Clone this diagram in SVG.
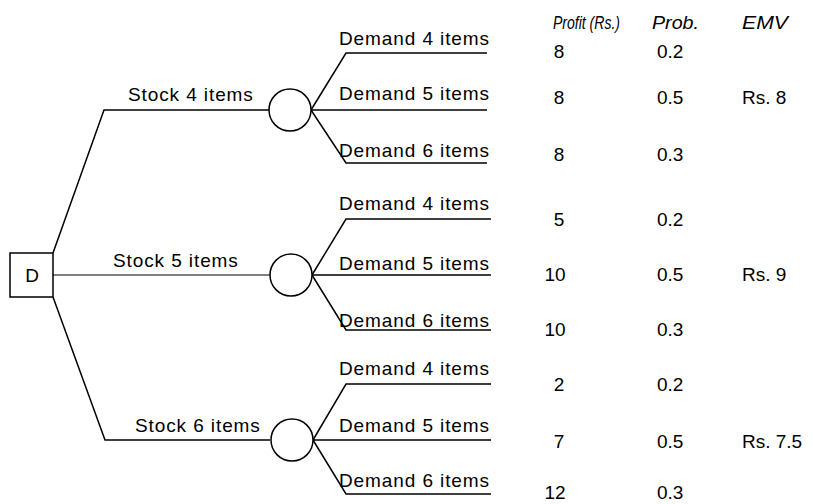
<svg xmlns="http://www.w3.org/2000/svg" width="813" height="504" viewBox="0 0 813 504">
<style>
.ln{fill:none;stroke:#000;stroke-width:1.5}
.nd{fill:#fff;stroke:#000;stroke-width:1.5}
.lb{font-family:"Liberation Sans",Arial,sans-serif;font-size:19px;letter-spacing:0.9px;fill:#000}
.v{font-family:"Liberation Sans",Arial,sans-serif;font-size:19px;fill:#000}
.h{font-family:"Liberation Sans",Arial,sans-serif;font-size:18px;font-style:italic;fill:#000}
.c{text-anchor:middle}
</style>
<rect width="813" height="504" fill="#fff"/>
<g id="connectors">
<path class="ln" d="M53,253 L104,110 L270,110"/>
<path class="ln" d="M53,275 L270,275" style="stroke-width:1.2"/>
<path class="ln" d="M53,297 L105,440 L270,440"/>
<path class="ln" d="M311,110 L346,53 L487,53 M311,110 L487,110 M311,110 L346,163 L487,163"/>
<path class="ln" d="M312,275 L346,219 L491,219 M312,275 L491,275 M312,275 L346,330 L491,330"/>
<path class="ln" d="M313,440 L346,384 L491,384 M313,440 L491,440 M313,440 L346,494 L491,494"/>
</g>
<g id="D">
<rect class="nd" x="10" y="253" width="43" height="44"/>
<text class="v c" x="32" y="282">D</text>
</g>
<g id="chance1"><circle class="nd" cx="290" cy="110" r="21"/></g>
<g id="chance2"><circle class="nd" cx="291" cy="275" r="21"/></g>
<g id="chance3"><circle class="nd" cx="292" cy="440" r="21"/></g>
<g id="labels">
<text class="lb" x="128" y="101">Stock 4 items</text>
<text class="lb" x="113" y="267">Stock 5 items</text>
<text class="lb" x="135" y="432">Stock 6 items</text>
<text class="lb" x="339" y="45">Demand 4 items</text>
<text class="lb" x="339" y="100">Demand 5 items</text>
<text class="lb" x="339" y="157">Demand 6 items</text>
<text class="lb" x="339" y="210">Demand 4 items</text>
<text class="lb" x="339" y="270">Demand 5 items</text>
<text class="lb" x="339" y="327">Demand 6 items</text>
<text class="lb" x="339" y="375">Demand 4 items</text>
<text class="lb" x="339" y="432">Demand 5 items</text>
<text class="lb" x="339" y="487">Demand 6 items</text>
</g>
<g id="table">
<text class="h" x="553" y="29" textLength="67" lengthAdjust="spacingAndGlyphs">Profit (Rs.)</text>
<text class="h" x="652" y="29" textLength="47" lengthAdjust="spacingAndGlyphs">Prob.</text>
<text class="h" x="742" y="29" textLength="46" lengthAdjust="spacingAndGlyphs">EMV</text>
<text class="v c" x="559" y="58">8</text>
<text class="v c" x="559" y="104">8</text>
<text class="v c" x="559" y="161">8</text>
<text class="v c" x="559" y="226">5</text>
<text class="v c" x="555" y="281">10</text>
<text class="v c" x="555" y="336">10</text>
<text class="v c" x="559" y="391">2</text>
<text class="v c" x="559" y="448">7</text>
<text class="v c" x="555" y="499">12</text>
<text class="v" x="657" y="58">0.2</text>
<text class="v" x="657" y="104">0.5</text>
<text class="v" x="657" y="161">0.3</text>
<text class="v" x="657" y="226">0.2</text>
<text class="v" x="657" y="281">0.5</text>
<text class="v" x="657" y="336">0.3</text>
<text class="v" x="657" y="391">0.2</text>
<text class="v" x="657" y="448">0.5</text>
<text class="v" x="657" y="499">0.3</text>
<text class="v" x="742" y="104">Rs. 8</text>
<text class="v" x="742" y="281">Rs. 9</text>
<text class="v" x="742" y="448">Rs. 7.5</text>
</g>
</svg>
